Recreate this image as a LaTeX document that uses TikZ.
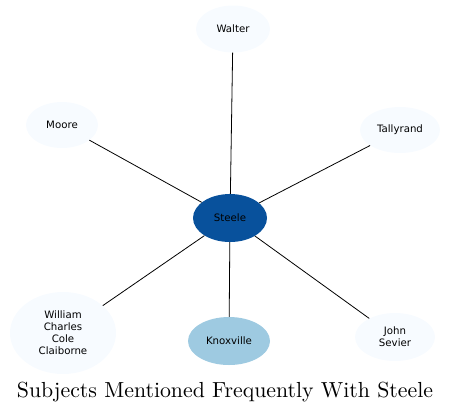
\documentclass[tikz,border=0pt]{standalone}
\usepackage{fontspec}
\newfontfamily\nodefont{DejaVu Sans}
\usetikzlibrary{shapes.geometric}
\definecolor{palefill}{HTML}{F7FBFF}
\definecolor{midblue}{HTML}{9ECAE1}
\definecolor{deepblue}{HTML}{08519C}
\begin{document}
\begin{tikzpicture}[x=1bp,y=-1bp,
  subj/.style={ellipse, fill=palefill, inner sep=0pt, align=center,
    font=\nodefont\fontsize{10.2bp}{12bp}\selectfont},
  link/.style={draw=black, line width=0.8bp}]
\useasboundingbox (0,0) rectangle (451,411);
\node[subj, minimum width=74bp, minimum height=47bp] (walter) at (233,29) {Walter};
\node[subj, minimum width=72bp, minimum height=46bp] (moore) at (62,125) {Moore};
\node[subj, minimum width=80bp, minimum height=46bp] (tallyrand) at (400,130) {Tallyrand};
\node[subj, fill=deepblue, minimum width=74bp, minimum height=48bp] (steele) at (230,218) {Steele};
\node[subj, minimum width=106bp, minimum height=82bp] (william) at (63,333) {William\\Charles\\Cole\\Claiborne};
\node[subj, fill=midblue, minimum width=82bp, minimum height=48bp] (knox) at (229,341) {Knoxville};
\node[subj, minimum width=80bp, minimum height=48bp] (john) at (395,337) {John\\Sevier};
\draw[link] (steele) -- (walter);
\draw[link] (steele) -- (moore);
\draw[link] (steele) -- (tallyrand);
\draw[link] (steele) -- (william);
\draw[link] (steele) -- (knox);
\draw[link] (steele) -- (john);
\node[inner sep=0pt, anchor=base] (title) at (225,397) {\resizebox{416bp}{!}{Subjects Mentioned Frequently With Steele}};
\end{tikzpicture}
\end{document}
